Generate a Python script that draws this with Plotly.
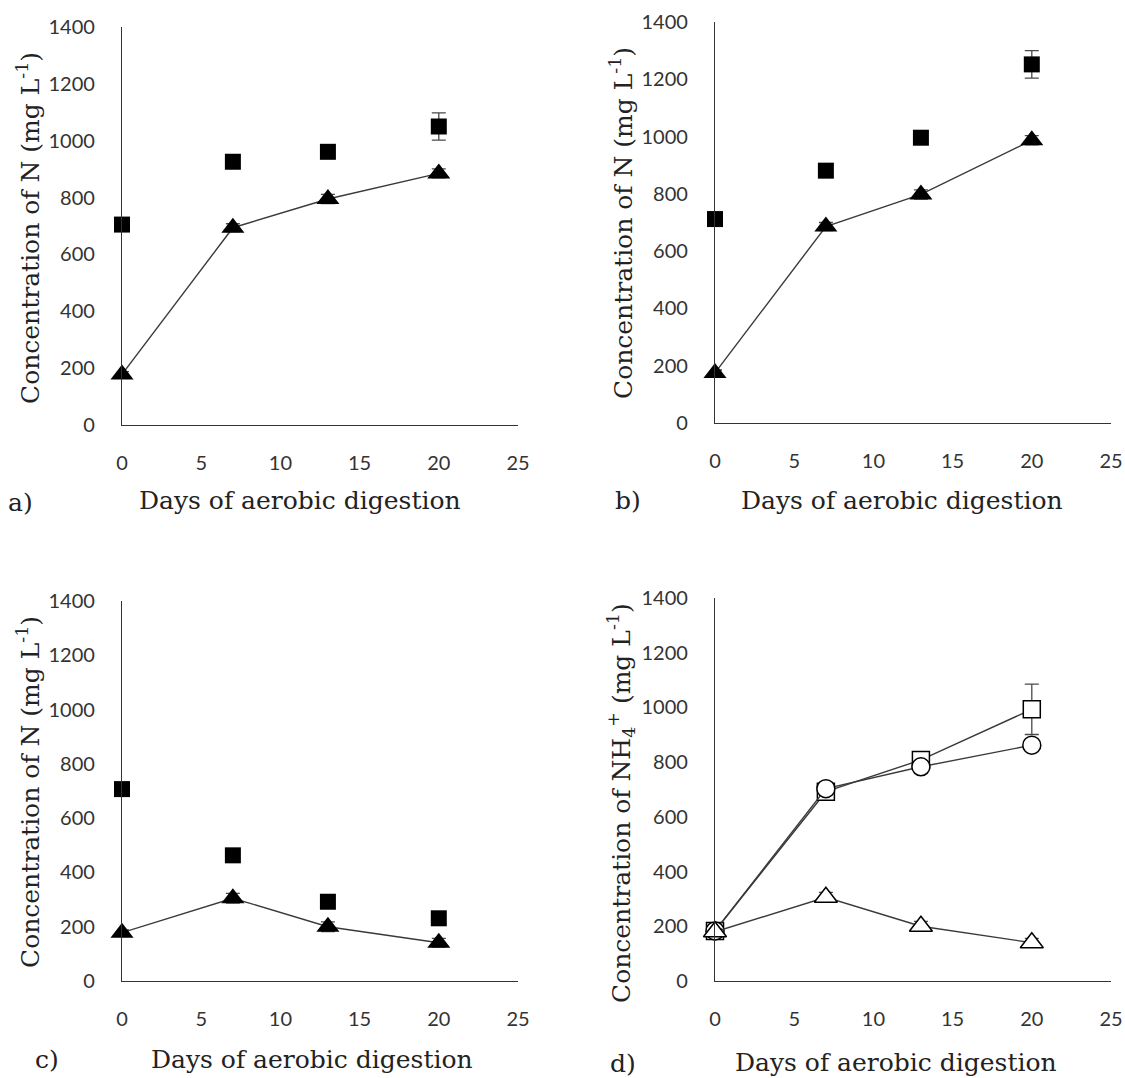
import plotly.graph_objects as go

# ---------------- data ----------------
days = [0, 7, 13, 20]

a_square = [705, 926, 961, 1050]
a_square_err = [10, 10, 10, 48]
a_triangle = [178, 694, 795, 885]
a_triangle_err = [10, 14, 16, 16]

b_square = [712, 881, 996, 1252]
b_square_err = [10, 10, 10, 48]
b_triangle = [175, 686, 798, 987]
b_triangle_err = [10, 14, 16, 16]

c_square = [707, 463, 292, 231]
c_square_err = [10, 10, 10, 10]
c_triangle = [178, 305, 200, 141]
c_triangle_err = [10, 18, 18, 16]

d_square = [183, 692, 808, 993]
d_square_err = [10, 10, 15, 92]
d_circle = [183, 703, 783, 862]
d_circle_err = [10, 10, 10, 10]
d_triangle = [180, 306, 200, 140]
d_triangle_err = [10, 18, 18, 16]

x_ticks = [0, 5, 10, 15, 20, 25]
y_ticks = [0, 200, 400, 600, 800, 1000, 1200, 1400]

panel_letters = ["a)", "b)", "c)", "d)"]
x_title = "Days of aerobic digestion"
y_title_N = "Concentration of N (mg L<sup>-1</sup>)"
y_title_NH4 = "Concentration of NH<sub>4</sub><sup>+</sup> (mg L<sup>-1</sup>)"

# ---------------- layout geometry (pixels in the final page) ----------------
W, H = 1125, 1078
boxes = {
    1: (122, 518, 27, 425),
    2: (715, 1111, 22, 423),
    3: (122, 518, 601, 981),
    4: (715, 1111, 598, 981),
}


def fx(p):
    return p / W


def fy(p):
    return 1 - p / H


LINE = "#3a3a3a"
ERR = "#4a4a4a"
TICKFONT = dict(family="Lato, Open Sans, sans-serif", size=20, color="#333333")
TITLEFONT = dict(family="DejaVu Serif, serif", size=25, color="#222222")

fig = go.Figure()


def add_series(idx, y, err, symbol, size, filled, with_line):
    xa = "x" if idx == 1 else f"x{idx}"
    ya = "y" if idx == 1 else f"y{idx}"
    fig.add_trace(go.Scatter(
        x=days, y=y, xaxis=xa, yaxis=ya,
        mode="lines+markers" if with_line else "markers",
        line=dict(color=LINE, width=1.4),
        marker=dict(symbol=symbol, size=size,
                    color="black" if filled else "white",
                    line=dict(color="black", width=0 if filled else 1.5)),
        error_y=dict(type="data", array=err, visible=True,
                     color=ERR, thickness=1.3, width=7),
        cliponaxis=False, showlegend=False,
    ))


add_series(1, a_square, a_square_err, "square", 16, True, False)
add_series(1, a_triangle, a_triangle_err, "triangle-up", 20, True, True)
add_series(2, b_square, b_square_err, "square", 16, True, False)
add_series(2, b_triangle, b_triangle_err, "triangle-up", 20, True, True)
add_series(3, c_square, c_square_err, "square", 16, True, False)
add_series(3, c_triangle, c_triangle_err, "triangle-up", 20, True, True)
add_series(4, d_square, d_square_err, "square", 17, False, True)
add_series(4, d_circle, d_circle_err, "circle", 18, False, True)
add_series(4, d_triangle, d_triangle_err, "triangle-up", 20, False, True)

layout = dict(
    width=W, height=H, autosize=False,
    margin=dict(l=0, r=0, t=0, b=0, pad=0, autoexpand=False),
    paper_bgcolor="white", plot_bgcolor="white",
    showlegend=False,
)

for i, (l, r, t, b) in boxes.items():
    xk = "xaxis" if i == 1 else f"xaxis{i}"
    yk = "yaxis" if i == 1 else f"yaxis{i}"
    ya = "y" if i == 1 else f"y{i}"
    xa = "x" if i == 1 else f"x{i}"
    layout[xk] = dict(
        domain=[fx(l), fx(r)], anchor=ya, range=[0, 25],
        tickvals=x_ticks, showgrid=False, zeroline=False, automargin=False,
        showline=True, linecolor="#333333", linewidth=1.3,
        ticks="", tickfont=TICKFONT, ticklabelstandoff=20,
        ticklabeloverflow="allow",
    )
    layout[yk] = dict(
        domain=[fy(b), fy(t)], anchor=xa, range=[0, 1400],
        tickvals=y_ticks, showgrid=False, zeroline=False, automargin=False,
        showline=True, linecolor="#333333", linewidth=1.3,
        ticks="", tickfont=TICKFONT, ticklabelstandoff=22,
    )

fig.update_layout(**layout)

ann = []
x_title_pos = {1: (300, 501), 2: (902, 501), 3: (312, 1059), 4: (896, 1062)}
letter_pos = {1: (20, 502), 2: (628, 501), 3: (47, 1059), 4: (623, 1063)}
y_title_pos = {1: (28, 228), 2: (621, 223), 3: (28, 792), 4: (621, 803)}
y_titles = {1: y_title_N, 2: y_title_N, 3: y_title_N, 4: y_title_NH4}

for i in range(1, 5):
    px, py = x_title_pos[i]
    ann.append(dict(text=x_title, x=fx(px), y=fy(py), xref="paper", yref="paper",
                    xanchor="center", yanchor="middle", showarrow=False, font=TITLEFONT))
    px, py = letter_pos[i]
    ann.append(dict(text=panel_letters[i - 1], x=fx(px), y=fy(py), xref="paper", yref="paper",
                    xanchor="center", yanchor="middle", showarrow=False, font=TITLEFONT))
    px, py = y_title_pos[i]
    ann.append(dict(text=y_titles[i], x=fx(px), y=fy(py), xref="paper", yref="paper",
                    xanchor="center", yanchor="middle", showarrow=False, textangle=-90,
                    font=TITLEFONT))

fig.update_layout(annotations=ann)

page_css = (
    "document.documentElement.style.margin='0';"
    "document.documentElement.style.overflow='hidden';"
    "document.body.style.margin='0';"
    "document.body.style.overflow='hidden';"
)

fig.write_html("out.html", config={"displayModeBar": False}, post_script=page_css)
